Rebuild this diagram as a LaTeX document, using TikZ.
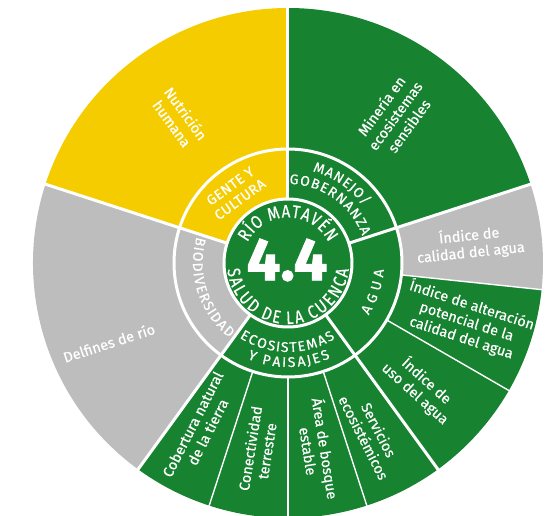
\documentclass[tikz,border=0pt]{standalone}
\usepackage{fontspec}
\setmainfont{Fira Sans}
\newfontfamily\rotulo{Fira Sans}[FakeBold=0.5]
\newfontfamily\cifra{Fira Sans}[FakeBold=1.5]
\usetikzlibrary{decorations.text}
\definecolor{verde}{HTML}{178230}
\definecolor{amarillo}{HTML}{F5CC00}
\definecolor{gris}{HTML}{BDBDBD}
\newcommand{\grupofont}{\rotulo\fontsize{14}{14}\selectfont}
\newcommand{\centrofont}{\rotulo\fontsize{15}{15}\selectfont}
\tikzset{
  eje/.style={white,line width=3pt},
  subeje/.style={white,line width=1.4pt},
  etiqueta/.style={text=white,align=center,inner sep=0pt,font=\rotulo\fontsize{14.5}{17}\selectfont},
  grupo/.style={text=white,align=center,inner sep=0pt,font=\rotulo\fontsize{14}{16.5}\selectfont\addfontfeature{LetterSpace=4}},
  arco/.style={decorate,decoration={text effects along path,text={#1},
    text effects/.cd,text along path,fit text to path,characters={text=white,font=\grupofont}}},
  arcocentro/.style={decorate,decoration={text effects along path,text={#1},
    text effects/.cd,text along path,fit text to path,characters={text=white,font=\centrofont,yscale=1.2}}}
}

\begin{document}
\begin{tikzpicture}[x=1pt,y=1pt]
\useasboundingbox (-288,-253) rectangle (264,263);
\foreach \a/\b/\c in {90/162/amarillo,162/234/gris,234/354/verde,354/378/gris,18/90/verde}
  \fill[\c] (0,0) -- (\a:255) arc[start angle=\a,end angle=\b,radius=255] -- cycle;
\foreach \a in {252,270,288,330,354}
  \draw[subeje] (\a:114) -- (\a:256);
\foreach \a/\b/\c in {90/162/amarillo,162/234/gris,234/378/verde}
  \fill[\c] (0,0) -- (\a:114) arc[start angle=\a,end angle=\b,radius=114] -- cycle;
\fill[verde] (0,0) circle[radius=64];
\foreach \a in {18,90,162,234,306}
  \draw[eje] (\a:64) -- (\a:256);
\draw[eje] (0,0) circle[radius=64] (0,0) circle[radius=114];

\node[font=\cifra\fontsize{60}{60}\selectfont\bfseries,text=white] (nota) at (-1,3) {4.4};
\path[arcocentro={RÍO MATAVÉN}] (153:45.5) arc[start angle=153,end angle=27,radius=45.5];
\path[arcocentro={SALUD DE LA CUENCA}] (186:61) arc[start angle=186,end angle=354,radius=61];

\node[grupo,rotate=36] (gente) at (127:88) {GENTE Y\\CULTURA};
\path[arco={MANEJO/}] (75:95) arc[start angle=75,end angle=37,radius=95];
\path[arco={GOBERNANZA}] (89:79) arc[start angle=89,end angle=20,radius=79];
\path[arco={BIODIVERSIDAD}] (164:95) arc[start angle=164,end angle=232,radius=95];
\path[arco={AGUA}] (-33:96) arc[start angle=-33,end angle=-4,radius=96];
\path[arco={ECOSISTEMAS}] (237:89) arc[start angle=237,end angle=302,radius=89];
\path[arco={Y PAISAJES}] (247:104) arc[start angle=247,end angle=294,radius=104];

\node[etiqueta,rotate=-54] (nutricion) at (127:181) {Nutrición\\humana};
\node[etiqueta,rotate=54] (mineria) at (54:182) {Minería en\\ecosistemas\\sensibles};
\node[etiqueta,rotate=6] (calidad) at (6:183) {Índice de\\calidad del agua};
\node[etiqueta,rotate=-18] (alteracion) at (-18:188) {Índice de alteración\\potencial de la\\calidad del agua};
\node[etiqueta,rotate=-42] (uso) at (-43:182) {Índice de\\uso del agua};
\node[etiqueta,rotate=-63] (servicios) at (-64:190) {Servicios\\ecosistémicos};
\node[etiqueta,rotate=-81] (bosque) at (-81:189) {Área de bosque\\estable};
\node[etiqueta,rotate=81] (conectividad) at (-99:189) {Conectividad\\terrestre};
\node[etiqueta,rotate=63] (cobertura) at (-118:187) {Cobertura natural\\de la tierra};
\node[etiqueta,rotate=18] (delfines) at (204:196) {Delfines de río};
\end{tikzpicture}
\end{document}
